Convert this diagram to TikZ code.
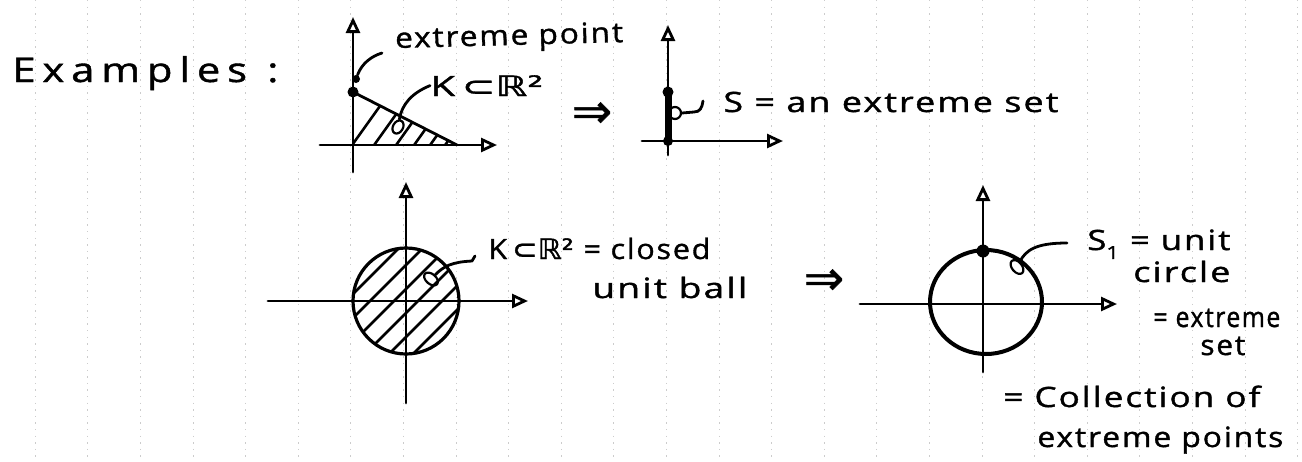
\documentclass[tikz,border=0pt]{standalone}
\usepackage{fontspec}
\usepackage{graphicx}
\setmainfont{Open Sans}
\newfontfamily\hand[LetterSpace=6,FakeBold=1.2]{Open Sans}
\newfontfamily\symf[FakeBold=1.2]{DejaVu Sans}
\usetikzlibrary{arrows.meta,shapes.geometric}
% stretch a handwritten line to a given width (in pt; 1px of the drawing = 0.5pt)
\newcommand\fitw[2]{\resizebox{#1pt}{\height}{#2}}

\begin{document}
\begin{tikzpicture}[x=0.5pt,y=-0.5pt,
  ink/.style={line width=1.4pt, line cap=round, line join=round},
  axis/.style={ink, -{Triangle[open,length=8pt,width=7pt]}},
  txt/.style={inner sep=0pt, anchor=base west, font=\hand\fontsize{14pt}{16pt}\selectfont},
  rule/.style={gray!40, line width=0.5pt, dash pattern=on 0.7pt off 2.6pt},
  hatch/.style={line width=1.3pt, line cap=round},
  dot/.style={fill=black, inner sep=0pt, circle, minimum size=#1},
  loopmark/.style={draw, ellipse, ink, line width=1.1pt, inner sep=0pt, minimum width=8pt, minimum height=5pt},
  implies/.style={inner sep=0pt, font=\symf\fontsize{24pt}{24pt}\selectfont}
]
\useasboundingbox (0,0) rectangle (1302,461);

% ruled paper
\foreach \k in {0,...,24}
  \draw[rule] ({35.3+52.6*\k},0) -- ({35.3+52.6*\k},461);

% heading
\node[txt, font=\hand\fontsize{17pt}{20pt}\selectfont] (ex) at (12,82) {\fitw{133}{E\,x\,a\,m\,p\,l\,e\,s\, :}};

% ---- first example: triangle ----
\coordinate (a1) at (353,92);
\coordinate (b1) at (457,145);
\coordinate (o1) at (353,145);
\coordinate (yb1) at (353,172);
\coordinate (yt1) at (353,17);
\coordinate (xl1) at (320,145);
\coordinate (xr1) at (497,145);
\begin{scope}
  \clip (a1) -- (b1) -- (o1) -- cycle;
  \foreach \c in {350,372,394,412,428,443}
    \draw[hatch] (\c,148) -- ++(45,-63);
\end{scope}
\draw[ink] (a1) -- (b1);
\draw[axis] (yb1) -- (yt1);
\draw[axis] (xl1) -- (xr1);
\node[dot=5.5pt] (p1) at (a1) {};
\node[dot=4pt] (q1) at (356,79) {};
\coordinate (e1) at (382,53);
\draw[ink] (q1) .. controls (362,63) and (372,56) .. (e1);
\node[txt, rotate=1.5] (ep) at (395,48) {\fitw{114}{extreme point}};
\node[txt] (k1) at (430,96) {\fitw{56.5}{K\,{\symf ⊂ℝ²}}};
\node[loopmark, minimum width=7pt, rotate=60] (l1) at (398,127) {};
\draw[ink] (l1) .. controls (402,104) and (412,93) .. (k1.west);

\node[implies] (imp1) at (592,115) {⇒};

% ---- second example: segment on the axis ----
\coordinate (o2) at (668,141);
\coordinate (a2) at (668,92);
\draw[axis] (668,155) -- (668,25);
\draw[axis] (642,141) -- (783,141);
\draw[line width=3.5pt, line cap=round] (a2) -- (o2);
\node[dot=5.5pt] (p2) at (a2) {};
\node[dot=5pt] (q2) at (o2) {};
\node[draw, circle, ink, line width=1.1pt, inner sep=0pt, minimum size=6pt] (l2) at (675,113) {};
\node[txt] (s2) at (723,112) {\fitw{167.5}{S = an extreme set}};
\draw[ink] (l2.east) -- (694,112) .. controls (700,112) and (702,108) .. (703,101);

% ---- third example: closed unit ball ----
\coordinate (c3) at (406,301);
\begin{scope}
  \clip (c3) circle (53);
  \foreach \d in {-60,-36,-12,12,36,60}
    \draw[hatch] ({353+\d/2},{354+\d/2}) -- ++(120,-120);
\end{scope}
\draw[ink, line width=1.6pt] (c3) circle (53);
\draw[axis] (406,403) -- (406,182);
\draw[axis] (268,301) -- (528,301);
\node[loopmark, rotate=-40] (l3) at (431,279) {};
\node[txt] (k3) at (488,259) {\fitw{111}{K\,{\symf ⊂ℝ²} = closed}};
\node[txt] (u3) at (592,298) {\fitw{77.5}{unit ball}};
\draw[ink] (l3) .. controls (444,266) and (452,262) .. (472,261) -- (475,256);

\node[implies] (imp2) at (824,282) {⇒};

% ---- fourth example: unit circle ----
\coordinate (c4) at (986,302);
\draw[line width=2pt] (c4) ellipse [x radius=56, y radius=52];
\draw[axis] (983,372) -- (983,185);
\draw[axis] (860,304) -- (1117,304);
\node[dot=6.5pt] (p4) at (983,251) {};
\node[loopmark, rotate=-50] (l4) at (1017,267) {};
\draw[ink] (l4) .. controls (1026,250) and (1036,243) .. (1067,243);
\node[txt] (s4) at (1087,250) {\fitw{71.5}{S\raisebox{-0.6ex}{\fontsize{9pt}{9pt}\selectfont 1} = unit}};
\node[txt] (t4) at (1133,282) {\fitw{48.5}{circle}};
\node[txt] (t5) at (1153,327) {\fitw{63.5}{= extreme}};
\node[txt] (t6) at (1200,355) {\fitw{22.5}{set}};
\node[txt] (t7) at (1003,407) {\fitw{128.5}{= Collection of}};
\node[txt] (t8) at (1037,447) {\fitw{123}{extreme points}};
\end{tikzpicture}
\end{document}
